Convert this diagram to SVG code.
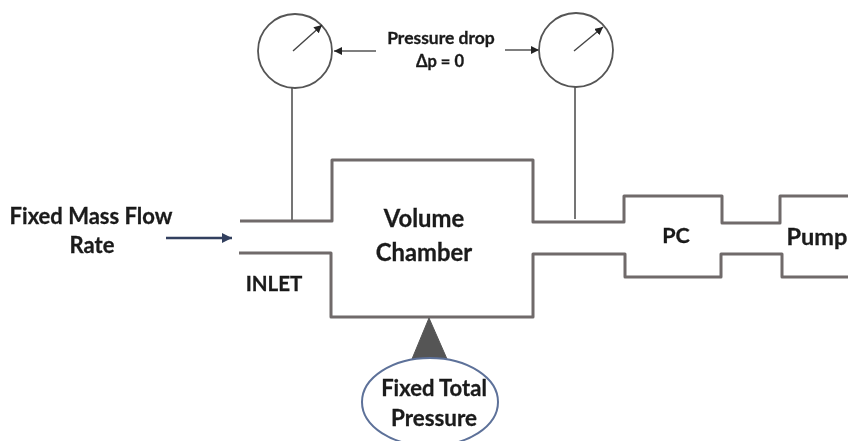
<svg xmlns="http://www.w3.org/2000/svg" width="848" height="441" viewBox="0 0 848 441">
<style>
text{font-family:Lato,"Liberation Sans",sans-serif;font-weight:700;fill:#1a1a1a;stroke:#1a1a1a;stroke-width:.3;text-anchor:middle}
.pipe{fill:none;stroke:#6f6b6b;stroke-width:3;stroke-linejoin:round}
.gauge{fill:#fff;stroke:#555;stroke-width:1.8}
.thin{fill:none;stroke:#666;stroke-width:1.8}
.needle{stroke:#444;stroke-width:1.4;fill:none;marker-end:url(#ah)}
.lead{stroke:#555;stroke-width:1.4;fill:none;marker-end:url(#ah)}
</style>
<defs>
<marker id="ah" markerUnits="userSpaceOnUse" markerWidth="9" markerHeight="8" refX="8" refY="4" orient="auto"><path d="M0 0L8 4L0 8Z" fill="#222"/></marker>
<marker id="ahb" markerUnits="userSpaceOnUse" markerWidth="10" markerHeight="10" refX="10" refY="5" orient="auto"><path d="M0 0L10 5L0 10Z" fill="#33415e"/></marker>
<filter id="soft" x="-5%" y="-5%" width="110%" height="110%"><feGaussianBlur stdDeviation="0.45"/></filter>
</defs>
<rect width="848" height="441" fill="#fff"/>
<g filter="url(#soft)">
<g id="connectors">
<path class="pipe" d="M240 221H332V160H533V222H624V196H722V223H780V196H848"/>
<path class="pipe" d="M239 253H331V317H533V254H625V277H721V254H782V277H848"/>
<path class="thin" d="M292 88V220"/>
<path class="thin" d="M575 87V219"/>
<path class="lead" d="M376 51H334"/>
<path class="lead" d="M505 50H539"/>
<path d="M166 238H232" stroke="#33415e" stroke-width="2.4" fill="none" marker-end="url(#ahb)"/>
</g>
<g id="gauge-inlet">
<circle class="gauge" cx="295" cy="51" r="37"/>
<path class="needle" d="M293 51L322 25"/>
</g>
<g id="gauge-outlet">
<circle class="gauge" cx="576" cy="50" r="37"/>
<path class="needle" d="M574 51L603 27"/>
</g>
<g id="pressure-drop">
<text x="441" y="44" font-size="17.5">Pressure drop</text>
<text x="440" y="67" font-size="16.5">Δp = 0</text>
</g>
<g id="mass-flow">
<text x="91" y="224" font-size="22">Fixed Mass Flow</text>
<text x="92" y="253" font-size="22">Rate</text>
</g>
<g id="inlet"><text x="274" y="291" font-size="20.5">INLET</text></g>
<g id="chamber">
<text x="424" y="227" font-size="23.8">Volume</text>
<text x="424" y="261" font-size="23.8">Chamber</text>
</g>
<g id="pc"><text x="676" y="243" font-size="21.5">PC</text></g>
<g id="pump"><text x="817" y="245" font-size="23.5">Pump</text></g>
<g id="total-pressure">
<path d="M429 318L412 359H447Z" fill="#555" stroke="#555"/>
<ellipse cx="430" cy="402" rx="68" ry="44" fill="#fff" stroke="#5d7199" stroke-width="2"/>
<text x="434" y="396" font-size="22">Fixed Total</text>
<text x="434" y="426" font-size="22.4">Pressure</text>
</g>
</g>
</svg>
